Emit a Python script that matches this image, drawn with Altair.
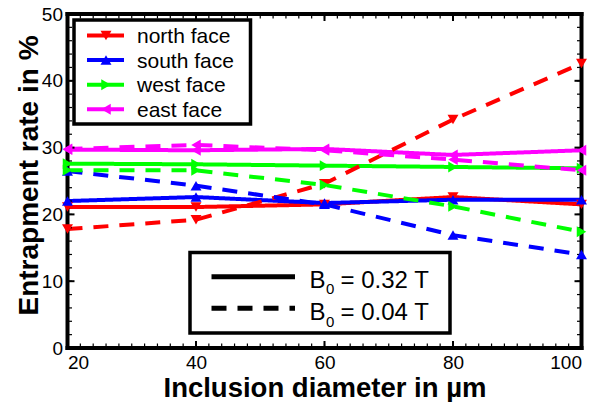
import altair as alt
import pandas as pd

diameters = [20, 40, 60, 80, 100]
faces = ["north face", "south face", "west face", "east face"]
colors = ["#ff0000", "#0000ff", "#00ff00", "#ff00ff"]
shapes = ["triangle-down", "triangle-up", "triangle-right", "triangle-left"]
fields = ["0.32 T", "0.04 T"]

# B0 = 0.32 T (solid)
north_032 = [21.1, 21.1, 21.5, 22.6, 21.5]
south_032 = [22.0, 22.6, 21.7, 22.2, 22.2]
west_032 = [27.6, 27.5, 27.3, 27.1, 26.9]
east_032 = [29.7, 29.6, 29.8, 28.9, 29.6]
# B0 = 0.04 T (dashed)
north_004 = [17.8, 19.2, 24.6, 34.2, 42.6]
south_004 = [26.5, 24.3, 21.5, 16.9, 14.0]
west_004 = [26.6, 26.6, 24.4, 21.2, 17.4]
east_004 = [29.8, 30.4, 29.6, 28.2, 26.6]

x_ticks = [20, 40, 60, 80, 100]
y_ticks = [0, 10, 20, 30, 40, 50]
x_minor = list(range(20, 101, 2))
y_minor = list(range(0, 51, 2))

FONT = "Liberation Sans"
W, H = 514, 334

series = {
    ("0.32 T", "north face"): north_032,
    ("0.32 T", "south face"): south_032,
    ("0.32 T", "west face"): west_032,
    ("0.32 T", "east face"): east_032,
    ("0.04 T", "north face"): north_004,
    ("0.04 T", "south face"): south_004,
    ("0.04 T", "west face"): west_004,
    ("0.04 T", "east face"): east_004,
}
rows = []
for (fld, face), vals in series.items():
    for d, v in zip(diameters, vals):
        rows.append({"d": d, "rate": v, "face": face, "field": fld})
df = pd.DataFrame(rows)

xs = alt.Scale(domain=[20, 100], nice=False, zero=False)
ys = alt.Scale(domain=[0, 50], nice=False)
color = alt.Color("face:N", scale=alt.Scale(domain=faces, range=colors), legend=None)

x_enc = alt.X("d:Q", scale=xs, axis=alt.Axis(
    values=x_ticks, title="Inclusion diameter in µm", titleFontSize=27.5,
    titleFont=FONT, titleFontWeight="bold", titleColor="black",
    titleX=W / 2, titleY=48.5, titleBaseline="alphabetic", titleAlign="center",
    labelFont=FONT, labelFontSize=19, labelColor="black", labelPadding=5,
    ticks=False, tickSize=0, domain=False, grid=False))
y_enc = alt.Y("rate:Q", scale=ys, axis=alt.Axis(
    values=y_ticks, title="Entrapment rate in %", titleFontSize=28,
    titleFont=FONT, titleFontWeight="bold", titleColor="black",
    titleX=-30, titleY=161, titleBaseline="alphabetic", titleAlign="center",
    labelFont=FONT, labelFontSize=19, labelColor="black", labelPadding=5,
    ticks=False, tickSize=0, domain=False, grid=False))

one = alt.Data(values=[{}])

lines = alt.Chart(df).mark_line(strokeWidth=4).encode(
    x=x_enc, y=y_enc, color=color, detail="face:N",
    strokeDash=alt.StrokeDash("field:N", scale=alt.Scale(domain=fields, range=[[1, 0], [15, 11]]), legend=None),
)
points = alt.Chart(df).mark_point(filled=True, size=120, opacity=1).encode(
    x=alt.X("d:Q", scale=xs), y=alt.Y("rate:Q", scale=ys), color=color,
    shape=alt.Shape("face:N", scale=alt.Scale(domain=faces, range=shapes), legend=None),
)

# frame as four thick rules
frame_layers = [
    alt.Chart(one).mark_rule(color="black", strokeWidth=4).encode(
        x=alt.value(-2), x2=alt.value(W + 2), y=alt.value(0.01)),
    alt.Chart(one).mark_rule(color="black", strokeWidth=4).encode(
        x=alt.value(-2), x2=alt.value(W + 2), y=alt.value(H)),
    alt.Chart(one).mark_rule(color="black", strokeWidth=4).encode(
        y=alt.value(-2), y2=alt.value(H + 2), x=alt.value(0.01)),
    alt.Chart(one).mark_rule(color="black", strokeWidth=4).encode(
        y=alt.value(-2), y2=alt.value(H + 2), x=alt.value(W)),
]

# inward ticks
xmin_df = pd.DataFrame({"d": x_minor})
xmaj_df = pd.DataFrame({"d": x_ticks})
ymin_df = pd.DataFrame({"rate": y_minor})
ymaj_df = pd.DataFrame({"rate": y_ticks})
tick_layers = []
for data, ln, sw in [(xmin_df, 4.5, 1.2), (xmaj_df, 7, 2)]:
    tick_layers.append(alt.Chart(data).mark_rule(color="black", strokeWidth=sw).encode(
        x=alt.X("d:Q", scale=xs), y=alt.value(H), y2=alt.value(H - ln)))
    tick_layers.append(alt.Chart(data).mark_rule(color="black", strokeWidth=sw).encode(
        x=alt.X("d:Q", scale=xs), y=alt.value(0), y2=alt.value(ln)))
for data, ln, sw in [(ymin_df, 4.5, 1.2), (ymaj_df, 7, 2)]:
    tick_layers.append(alt.Chart(data).mark_rule(color="black", strokeWidth=sw).encode(
        y=alt.Y("rate:Q", scale=ys), x=alt.value(0), x2=alt.value(ln)))
    tick_layers.append(alt.Chart(data).mark_rule(color="black", strokeWidth=sw).encode(
        y=alt.Y("rate:Q", scale=ys), x=alt.value(W), x2=alt.value(W - ln)))

# legend 1 (faces)
leg1_df = pd.DataFrame({"face": faces, "ly": [21.5 + 24.6 * i for i in range(4)]})
leg1_df["ty"] = leg1_df["ly"] + 7.5
leg1_box = alt.Chart(one).mark_rect(fill="white", stroke="black", strokeWidth=3.5).encode(
    x=alt.value(6.5), x2=alt.value(183), y=alt.value(6), y2=alt.value(110))
leg1_line = alt.Chart(leg1_df).mark_rule(strokeWidth=4).encode(
    x=alt.value(19.5), x2=alt.value(56.5), y=alt.Y("ly:Q", scale=None), color=color)
leg1_pt = alt.Chart(leg1_df).mark_point(filled=True, size=120, opacity=1).encode(
    x=alt.value(38.5), y=alt.Y("ly:Q", scale=None), color=color,
    shape=alt.Shape("face:N", scale=alt.Scale(domain=faces, range=shapes), legend=None))
leg1_txt = alt.Chart(leg1_df).mark_text(align="left", baseline="alphabetic", font=FONT,
                                        fontSize=21, color="black").encode(
    x=alt.value(69.5), y=alt.Y("ty:Q", scale=None), text="face:N")

# legend 2 (field strength)
leg2_df = pd.DataFrame({"field": fields, "ly": [262.7, 294.3], "by": [273.7, 306.0]})
leg2_df["sy"] = leg2_df["by"] + 6.5
leg2_df["rest"] = "= " + leg2_df["field"]
leg2_df["B"] = "B"
leg2_df["sub"] = "0"
leg2_box = alt.Chart(one).mark_rect(fill="white", stroke="black", strokeWidth=3.5).encode(
    x=alt.value(122.5), x2=alt.value(382.5), y=alt.value(238.5), y2=alt.value(319))
leg2_line = alt.Chart(leg2_df).mark_rule(strokeWidth=5, color="black").encode(
    x=alt.value(144), x2=alt.value(227.5), y=alt.Y("ly:Q", scale=None),
    strokeDash=alt.StrokeDash("field:N", scale=alt.Scale(domain=fields, range=[[1, 0], [18, 13]]), legend=None))
leg2_B = alt.Chart(leg2_df).mark_text(align="left", baseline="alphabetic", font=FONT,
                                      fontSize=24, color="black").encode(
    x=alt.value(242), y=alt.Y("by:Q", scale=None), text="B:N")
leg2_sub = alt.Chart(leg2_df).mark_text(align="left", baseline="alphabetic", font=FONT,
                                        fontSize=15, color="black").encode(
    x=alt.value(258.5), y=alt.Y("sy:Q", scale=None), text="sub:N")
leg2_rest = alt.Chart(leg2_df).mark_text(align="left", baseline="alphabetic", font=FONT,
                                         fontSize=24, color="black").encode(
    x=alt.value(273), y=alt.Y("by:Q", scale=None), text="rest:N")

chart = alt.layer(
    lines, *tick_layers, *frame_layers, points,
    leg1_box, leg1_line, leg1_pt, leg1_txt,
    leg2_box, leg2_line, leg2_B, leg2_sub, leg2_rest,
).properties(
    width=W, height=H,
    autosize=alt.AutoSizeParams(type="none"),
    padding={"left": 67.5, "top": 14, "right": 18.5, "bottom": 54},
).configure_view(strokeWidth=0).configure(background="white")

chart.save("out.html", embed_options={"renderer": "svg", "actions": False})
